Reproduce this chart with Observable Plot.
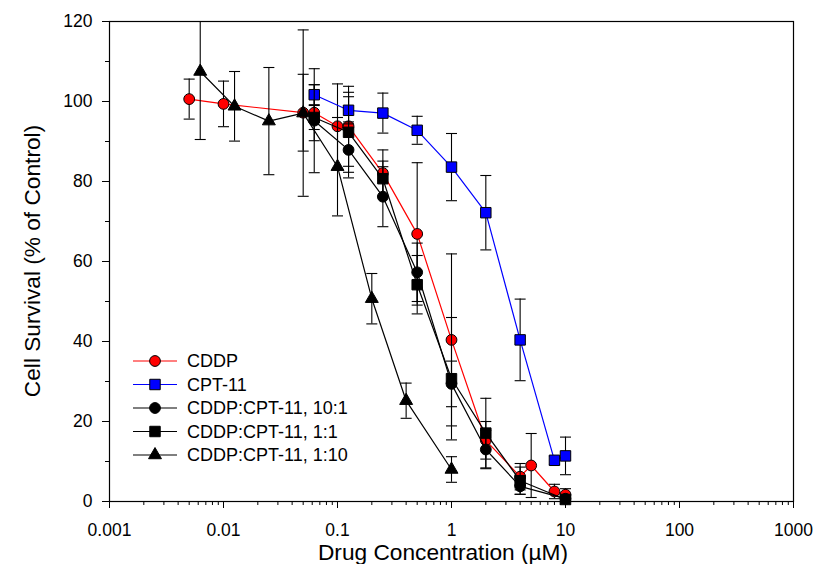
<!DOCTYPE html>
<html>
<head>
<meta charset="utf-8">
<script src="https://cdn.jsdelivr.net/npm/d3@7"></script>
<script src="https://cdn.jsdelivr.net/npm/@observablehq/plot@0.6"></script>
<style>
  body { margin: 0; background: #fff; }
  #chart { position: relative; width: 817px; height: 564px; }
</style>
</head>
<body>
<div id="chart"></div>
<script>
// ---------- data ----------
const seriesNames = ["CDDP", "CPT-11", "CDDP:CPT-11, 10:1", "CDDP:CPT-11, 1:1", "CDDP:CPT-11, 1:10"];
const seriesLineColors = ["#ff0000", "#0000ff", "#000000", "#000000", "#000000"];
const seriesFills = ["#ff0000", "#0000ff", "#000000", "#000000", "#000000"];
const seriesSymbols = ["circle", "square", "circle", "square", "triangle"];

const cddpX = [0.005, 0.01, 0.05, 0.0625, 0.1, 0.125, 0.25, 0.5, 1, 2, 4, 5, 8, 10];
const cddpY = [100.6, 99.4, 97.2, 97.2, 93.8, 93.8, 82.1, 66.9, 40.4, 15.3, 6.2, 9.0, 2.5, 1.7];
const cddpErr = [5.0, 5.7, 9.6, 7.0, 10.6, 10.0, 5.8, 17.8, 21.5, 4.7, 3.3, 8.0, 1.8, 1.5];

const cptX = [0.0625, 0.125, 0.25, 0.5, 1, 2, 4, 8, 10];
const cptY = [101.7, 97.8, 97.1, 92.8, 83.6, 72.2, 40.4, 10.3, 11.4];
const cptErr = [2.5, 3.4, 5.0, 3.5, 8.4, 9.3, 10.2, 1.0, 4.7];

const mix10X = [0.0625, 0.125, 0.25, 0.5, 1, 2, 4, 10];
const mix10Y = [95.2, 87.9, 76.2, 57.3, 29.4, 13.0, 3.8, 0.7];
const mix10Err = [13.0, 7.0, 7.5, 7.3, 5.7, 4.8, 2.0, 0.8];

const mix1X = [0.0625, 0.125, 0.25, 0.5, 1, 2, 4, 10];
const mix1Y = [96.0, 92.3, 80.7, 54.2, 30.7, 17.1, 5.2, 0.5];
const mix1Err = [3.0, 10.0, 4.4, 7.3, 15.3, 8.7, 3.4, 0.8];

const mix110X = [0.00625, 0.0125, 0.025, 0.05, 0.1, 0.2, 0.4, 1];
const mix110Y = [107.5, 98.8, 95.1, 97.1, 83.7, 50.7, 25.2, 8.0];
const mix110Err = [17.0, 8.7, 13.4, 20.8, 12.3, 6.3, 4.4, 3.2];

const xMajorTicks = [0.001, 0.01, 0.1, 1, 10, 100, 1000];
const xTickLabels = ["0.001", "0.01", "0.1", "1", "10", "100", "1000"];
const xMinorTicks = [];
for (const d of [0.001, 0.01, 0.1, 1, 10, 100]) for (let m = 2; m <= 9; m++) xMinorTicks.push(+(d * m).toPrecision(6));
const yMajorTicks = [0, 20, 40, 60, 80, 100, 120];
const yMinorTicks = [10, 30, 50, 70, 90, 110];

const xTitle = "Drug Concentration (µM)";
const yTitle = "Cell Survival (% of Control)";

// ---------- build tables ----------
const seriesData = [
  [cddpX, cddpY, cddpErr],
  [cptX, cptY, cptErr],
  [mix10X, mix10Y, mix10Err],
  [mix1X, mix1Y, mix1Err],
  [mix110X, mix110Y, mix110Err]
].map(([xs, ys, es], i) => xs.map((x, j) => ({
  series: seriesNames[i], x, y: ys[j], lo: ys[j] - es[j], hi: ys[j] + es[j]
})));

const capSymbol = { draw(ctx) { ctx.moveTo(-5.5, 0); ctx.lineTo(5.5, 0); } };
const markerR = { circle: 5.4, square: 5.9, triangle: 4.8 };

const seriesMarks = seriesData.flatMap((rows, i) => {
  const caps = rows.flatMap(r => [{ x: r.x, y: r.lo }, { x: r.x, y: r.hi }]);
  return [
    Plot.ruleX(rows, { x: "x", y1: "lo", y2: "hi", stroke: "#000", strokeWidth: 1.1, clip: true }),
    Plot.dot(caps, { x: "x", y: "y", symbol: capSymbol, r: 5, stroke: "#000", fill: "none", strokeWidth: 1.1, clip: true }),
    Plot.line(rows, { x: "x", y: "y", stroke: seriesLineColors[i], strokeWidth: 1.2 }),
    Plot.dot(rows, { x: "x", y: "y", symbol: seriesSymbols[i], r: markerR[seriesSymbols[i]],
      fill: seriesFills[i], stroke: "#000", strokeWidth: 1 })
  ];
});

const W = 817, H = 564, mL = 109, mR = 24, mT = 21, mB = 63;

const plot = Plot.plot({
  width: W, height: H,
  marginLeft: mL, marginRight: mR, marginTop: mT, marginBottom: mB,
  style: { fontFamily: "'Liberation Sans', Arial, sans-serif", fontSize: "17.5px", background: "#fff", color: "#000" },
  x: { type: "log", domain: [0.001, 1000] },
  y: { domain: [0, 120] },
  marks: [
    Plot.axisX(xMinorTicks, { tickSize: 4, tickFormat: () => "", label: null, strokeWidth: 1 }),
    Plot.axisX(xMajorTicks, { tickSize: 7, tickFormat: () => "", label: null, strokeWidth: 1 }),
    Plot.axisX(xMajorTicks, { tickSize: 0, tickPadding: 22, tickFormat: d => xTickLabels[xMajorTicks.indexOf(d)], label: null }),
    Plot.axisY(yMinorTicks, { tickSize: 4, tickFormat: () => "", label: null, strokeWidth: 1 }),
    Plot.axisY(yMajorTicks, { tickSize: 7, tickFormat: () => "", label: null, strokeWidth: 1 }),
    Plot.axisY(yMajorTicks, { tickSize: 0, tickPadding: 17, tickFormat: d => String(d), label: null }),
    ...seriesMarks,
    Plot.frame({ stroke: "#000", strokeWidth: 1.2 })
  ]
});

document.getElementById("chart").appendChild(plot);

// ---------- axis titles and legend ----------
const svg = d3.select(plot);
const font = "'Liberation Sans', Arial, sans-serif";
svg.append("text")
  .attr("x", 443).attr("y", 560)
  .attr("text-anchor", "middle").attr("font-family", font).attr("font-size", 22.7)
  .attr("fill", "#000").text(xTitle);
svg.append("text")
  .attr("transform", `translate(39.5,${mT + (H - mT - mB) / 2}) rotate(-90)`)
  .attr("text-anchor", "middle").attr("font-family", font).attr("font-size", 22.7)
  .attr("fill", "#000").text(yTitle);

const lg = svg.append("g").attr("text-anchor", "start");
const legendRowY = [361, 384.5, 408, 431.5, 455];
const d3Sym = { circle: d3.symbolCircle, square: d3.symbolSquare, triangle: d3.symbolTriangle };
seriesNames.forEach((name, i) => {
  const cy = legendRowY[i];
  lg.append("line").attr("x1", 133).attr("x2", 177).attr("y1", cy).attr("y2", cy)
    .attr("stroke", seriesLineColors[i]).attr("stroke-width", 1.2);
  const r = markerR[seriesSymbols[i]];
  lg.append("path")
    .attr("d", d3.symbol(d3Sym[seriesSymbols[i]], Math.PI * r * r)())
    .attr("transform", `translate(155,${cy})`)
    .attr("fill", seriesFills[i]).attr("stroke", "#000").attr("stroke-width", 1);
  lg.append("text").attr("x", 187).attr("y", cy).attr("dy", "0.36em")
    .attr("text-anchor", "start")
    .attr("font-family", font).attr("font-size", 18).attr("fill", "#000").text(name);
});
</script>
</body>
</html>
